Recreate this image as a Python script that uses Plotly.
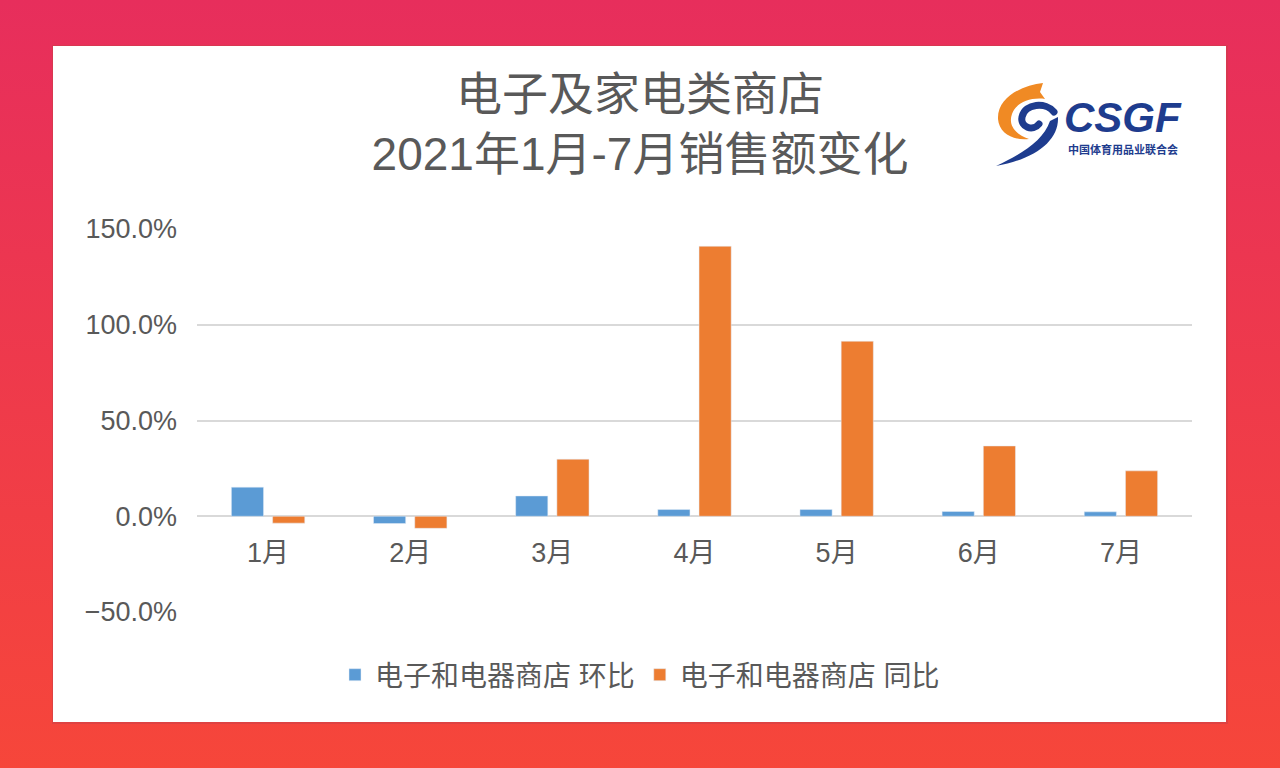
import base64

import plotly.graph_objects as go

months = ["1月", "2月", "3月", "4月", "5月", "6月", "7月"]
mom_growth = [15.2, -3.8, 10.6, 3.5, 3.5, 2.5, 2.3]      # 环比 (%)
yoy_growth = [-3.6, -6.3, 29.8, 141.0, 91.4, 36.7, 23.7]  # 同比 (%)
y_ticks = [-50, 0, 50, 100, 150]
y_tick_text = ["−50.0%", "0.0%", "50.0%", "100.0%", "150.0%"]

W, H = 1280, 768
LEFT, RIGHT, TOP, BOTTOM = 197, 1192, 229, 612
FONT = "Liberation Sans, Noto Sans CJK SC, sans-serif"
GREY = "#595959"
NAVY = "#1E3C8E"


def px(x):
    return (x - LEFT) / (RIGHT - LEFT)


def py(y):
    return (BOTTOM - y) / (BOTTOM - TOP)


def svg_uri(svg):
    return "data:image/svg+xml;base64," + base64.b64encode(svg.encode()).decode()


background = f"""<svg xmlns="http://www.w3.org/2000/svg" width="{W}" height="{H}"
 viewBox="0 0 {W} {H}" preserveAspectRatio="none">
<defs><linearGradient id="g" x1="0" y1="0" x2="0" y2="1">
<stop offset="0" stop-color="#E72E5C"/><stop offset="1" stop-color="#F6463A"/>
</linearGradient></defs>
<rect width="{W}" height="{H}" fill="url(#g)"/>
<rect x="52" y="45" width="1176" height="679" fill="#C84048" opacity="0.5"/>
<rect x="53" y="46" width="1173" height="676" fill="#FFFFFF"/>
</svg>"""

# swirl mark of the CSGF logo
logo = f"""<svg xmlns="http://www.w3.org/2000/svg" width="70" height="86" viewBox="0 0 70 86">
<path d="M50 2 C30 4 4 16 5 38 C6 52 20 60 36 58 C22 53 15 44 19 33
 C23 22 37 16 52 18 L47 11 Z" fill="#F08A24"/>
<path d="M61 31 C53 21 32 22 29 36 C27 46 40 51 46 43" fill="none"
 stroke="{NAVY}" stroke-width="7" stroke-linecap="round"/>
<path d="M65 36 C66 60 42 78 3 85 C30 72 50 60 57 40 Z" fill="{NAVY}"/>
</svg>"""

fig = go.Figure()
fig.add_bar(x=months, y=mom_growth, name="电子和电器商店 环比",
            marker_color="#5B9BD5")
fig.add_bar(x=months, y=yoy_growth, name="电子和电器商店 同比",
            marker_color="#ED7D31")

fig.update_layout(
    width=W, height=H,
    margin=dict(l=LEFT, r=W - RIGHT, t=TOP, b=H - BOTTOM, autoexpand=False),
    paper_bgcolor="#EE3A4B",
    plot_bgcolor="rgba(0,0,0,0)",
    font=dict(family=FONT, color=GREY, size=27),
    barmode="group", bargap=0.42, bargroupgap=0.22,
    title=dict(text="电子及家电类商店<br>2021年1月-7月销售额变化",
               font=dict(size=46, color=GREY),
               xref="container", x=0.5, xanchor="center",
               yref="container", y=1 - 110 / H, yanchor="middle"),
    legend=dict(orientation="h", xref="paper", x=px(640), xanchor="center",
                yref="paper", y=py(675), yanchor="middle",
                font=dict(size=28, color=GREY), itemwidth=30,
                bgcolor="rgba(0,0,0,0)"),
    showlegend=True,
    images=[
        dict(source=svg_uri(background), xref="paper", yref="paper",
             x=px(0), y=py(0), sizex=W / (RIGHT - LEFT),
             sizey=H / (BOTTOM - TOP), xanchor="left", yanchor="top",
             sizing="stretch", layer="below"),
        dict(source=svg_uri(logo), xref="paper", yref="paper",
             x=px(993), y=py(81), sizex=70 / (RIGHT - LEFT),
             sizey=86 / (BOTTOM - TOP), xanchor="left", yanchor="top",
             sizing="stretch", layer="above"),
    ],
    annotations=[
        dict(text="<b><i>CSGF</i></b>", xref="paper", yref="paper",
             x=px(1123), y=py(117), xanchor="center", yanchor="middle",
             showarrow=False,
             font=dict(family="Liberation Sans", size=42, color=NAVY)),
        dict(text="<b>中国体育用品业联合会</b>", xref="paper", yref="paper",
             x=px(1123), y=py(149), xanchor="center", yanchor="middle",
             showarrow=False,
             font=dict(family="Noto Sans CJK SC", size=11, color=NAVY)),
    ],
)

fig.update_yaxes(range=[-50, 150], tickvals=y_ticks, ticktext=y_tick_text,
                 showgrid=True, gridcolor="#D9D9D9",
                 gridwidth=2, zeroline=True, zerolinecolor="#D9D9D9",
                 zerolinewidth=2, showline=False, ticklabelstandoff=19)
fig.update_xaxes(anchor="free", position=0.25, showline=False, showgrid=False,
                 ticks="", ticklabelstandoff=18)

fig.write_html("out.html", config={"displayModeBar": False},
               post_script="document.body.style.margin = '0';")
